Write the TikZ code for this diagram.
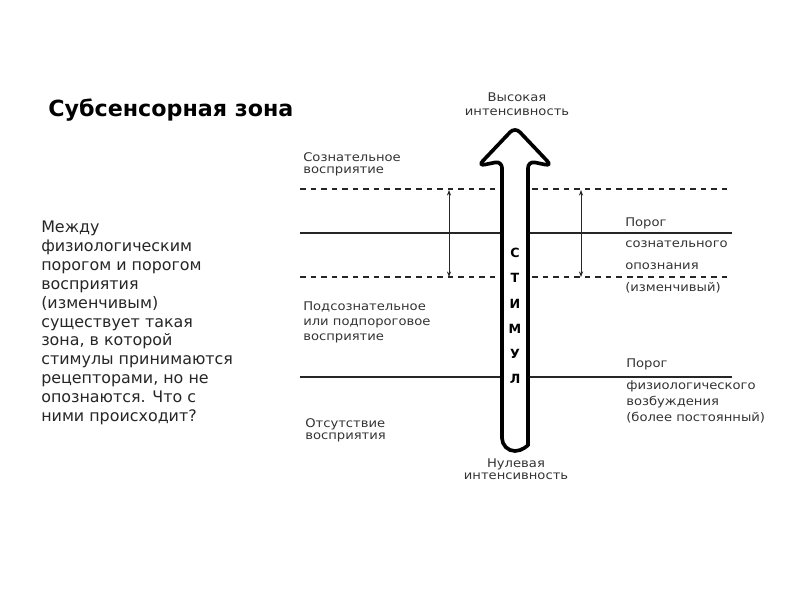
\documentclass[tikz,border=0pt]{standalone}
\usepackage{fontspec}
\setmainfont{DejaVu Sans}
\newfontfamily\lblfont[FakeStretch=1.1]{DejaVu Sans}
\usetikzlibrary{arrows.meta}

\begin{document}
\begin{tikzpicture}[x=0.025cm, y=-0.025cm,
    lbl/.style={font=\lblfont\fontsize{8.5}{10.5}\selectfont, text=black!80,
        inner sep=0pt, align=left, anchor=north west},
    lbltight/.style={lbl, font=\lblfont\fontsize{8.5}{9}\selectfont},
    level/.style={line width=0.8pt, draw=black!85},
    varlevel/.style={level, dash pattern=on 4pt off 3.5pt},
    span/.style={line width=0.6pt, draw=black!85,
        {Stealth[length=4pt, width=3pt]}-{Stealth[length=4pt, width=3pt]}},
    letter/.style={font=\bfseries\fontsize{9}{9}\selectfont, inner sep=0pt}
]
\useasboundingbox (0,0) rectangle (800,600);

% left column
\node[anchor=base west, inner sep=0pt, font=\bfseries\fontsize{15.8}{18}\selectfont]
    (title) at (48,116) {Субсенсорная зона};
\node[anchor=north west, inner sep=0pt, align=left, text=black!85,
      font=\fontsize{11.3}{13.4}\selectfont] (body) at (41,221)
    {Между\\физиологическим\\порогом и порогом\\восприятия\\(изменчивым)\\
     существует такая\\зона, в которой\\стимулы принимаются\\рецепторами, но не\\
     опознаются. Что с\\ними происходит?};

% levels
\coordinate (topL) at (300,189);  \coordinate (topR) at (732,189);
\coordinate (conL) at (300,233);  \coordinate (conR) at (732,233);
\coordinate (lowL) at (300,277);  \coordinate (lowR) at (732,277);
\coordinate (phyL) at (300,377);  \coordinate (phyR) at (732,377);
\draw[varlevel] (topL) -- (topR);
\draw[level] (conL) -- (conR);
\draw[varlevel] (lowL) -- (lowR);
\draw[level] (phyL) -- (phyR);

% range of the variable threshold
\coordinate (sp1a) at (449,190);  \coordinate (sp1b) at (449,277);
\coordinate (sp2a) at (581,190);  \coordinate (sp2b) at (581,277);
\draw[span] (sp1a) -- (sp1b);
\draw[span] (sp2a) -- (sp2b);

% stimulus arrow
\draw[line width=2.6pt, fill=white, rounded corners=5pt]
    (502,300) -- (502,161) -- (478,166) -- (515,127) -- (552,166)
    -- (528,161) -- (528,438) [sharp corners]
    arc[start angle=0, end angle=180, radius=13] -- cycle;
\foreach \ch [count=\i from 0] in {С,Т,И,М,У,Л}
    \node[letter] (st\i) at (515,{253+25.2*\i}) {\ch};

% labels
\node[lbl, anchor=north, align=center] (high) at (517,92) {Высокая\\интенсивность};
\node[lbltight, anchor=north, align=center] (zero) at (516,458) {Нулевая\\интенсивность};
\node[lbltight] (consc) at (303,152) {Сознательное\\восприятие};
\node[lbl, font=\lblfont\fontsize{8.5}{11}\selectfont] (subc) at (303,301)
    {Подсознательное\\или подпороговое\\восприятие};
\node[lbltight] (none) at (305,418) {Отсутствие\\восприятия};
\node[lbl, font=\lblfont\fontsize{8.5}{15.6}\selectfont] (thrc) at (625,217)
    {Порог\\сознательного\\опознания\\(изменчивый)};
\node[lbl, font=\lblfont\fontsize{8.5}{11.3}\selectfont] (thrp) at (626,358)
    {Порог\\[4.5pt]физиологического\\возбуждения\\(более постоянный)};
\end{tikzpicture}
\end{document}
